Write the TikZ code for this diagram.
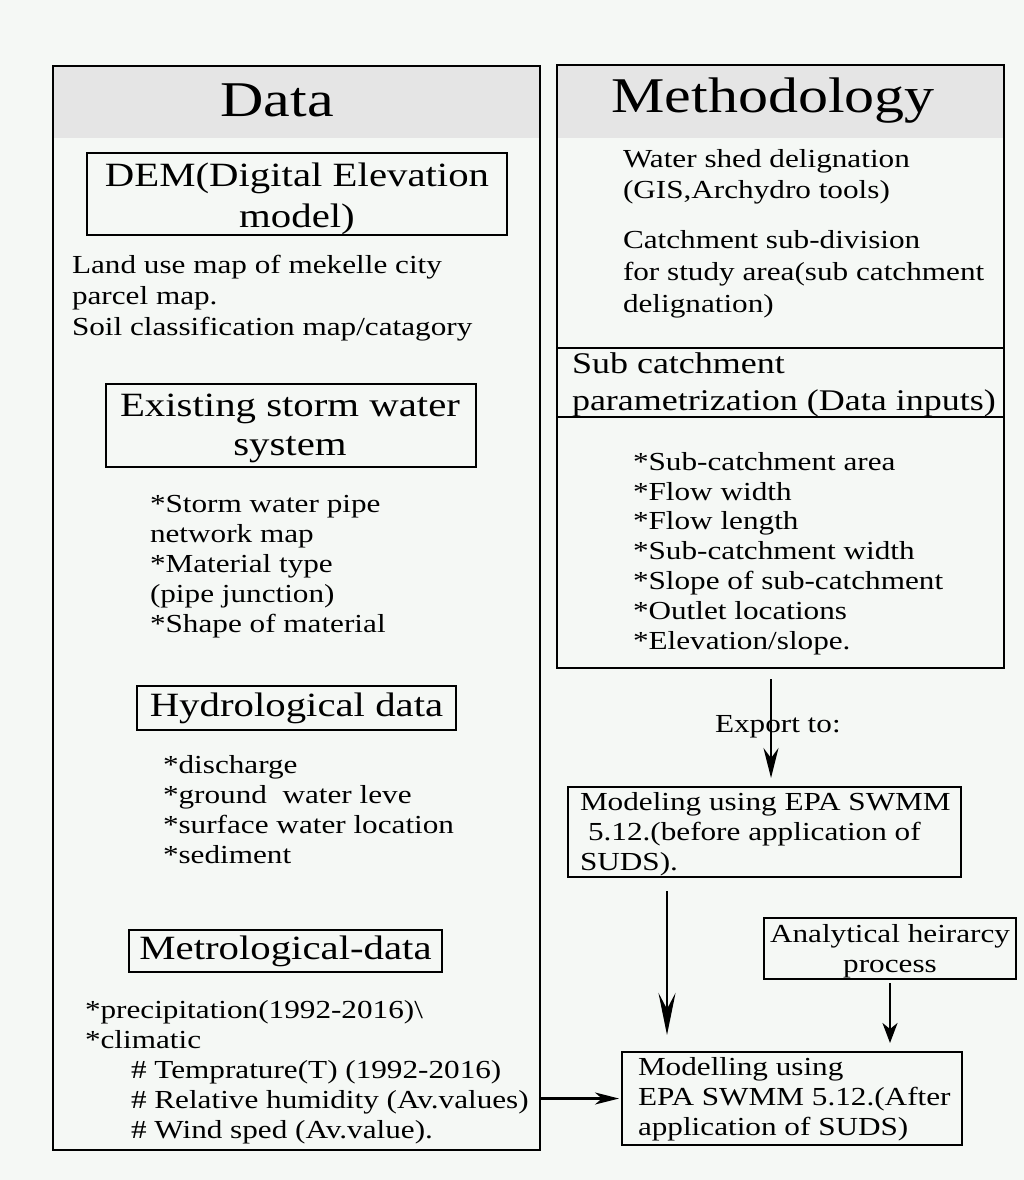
\documentclass[tikz,border=0pt]{standalone}
\usepackage{fontspec}
\setmainfont{Liberation Serif}[FakeStretch=1.2]
\usetikzlibrary{arrows.meta}
\definecolor{paper}{RGB}{245,248,245}
\definecolor{headgray}{RGB}{229,229,229}

\begin{document}
% Text nodes are placed by the baseline of their last line (anchor=base).
\begin{tikzpicture}[x=1pt,y=-1pt,
  every node/.style={inner sep=0pt, outer sep=0pt},
  frame/.style={draw, line width=1.6pt},
  titletext/.style={font=\fontsize{50}{60}\selectfont, anchor=base},
  itemtext/.style={font=\fontsize{34}{41}\selectfont, align=center, anchor=base},
  listtext/.style={font=\fontsize{26}{30}\selectfont, align=left, anchor=base west},
  exportlink/.style={line width=2.2pt, -{Stealth[length=30pt,width=15pt,inset=10pt]}},
  longlink/.style={line width=2.8pt, -{Stealth[length=42pt,width=17pt,inset=16pt]}},
  shortlink/.style={line width=2.4pt, -{Stealth[length=20pt,width=15pt,inset=6pt]}},
  sidelink/.style={line width=2.4pt, -{Stealth[length=24pt,width=12pt,inset=7pt]}},
]
% page
\fill[paper] (0,0) rectangle (1024,1180);
\useasboundingbox (0,0) rectangle (1024,1180);

% header bands
\fill[headgray] (53,66) rectangle (540,138);
\fill[headgray] (557,65) rectangle (1004,138);

% the two panels
\node[frame, minimum width=487pt, minimum height=1084pt] (data) at (296.5,608) {};
\node[frame, minimum width=447pt, minimum height=603pt] (meth) at (780.5,366.5) {};

\node[titletext] (datatitle) at (277,117) {Data};
\node[titletext] (methtitle) at (773,113) {Methodology};

% ---- Data panel ----
\node[frame, minimum width=420pt, minimum height=82pt] (dem) at (297,194) {};
\node[itemtext] (demtext) at (297,227) {DEM(Digital Elevation\\model)};
\node[listtext, font=\fontsize{26}{31}\selectfont] (landuse) at (72,335)
  {Land use map of mekelle city\\parcel map.\\Soil classification map/catagory};

\node[frame, minimum width=370pt, minimum height=83pt] (storm) at (291,425.5) {};
\node[itemtext, font=\fontsize{34}{39}\selectfont] (stormtext) at (290,455) {Existing storm water\\system};
\node[listtext] (stormlist) at (150,632)
  {*Storm water pipe\\network map\\*Material type\\(pipe junction)\\*Shape of material};

\node[frame, minimum width=319pt, minimum height=44pt] (hydro) at (296.5,708) {};
\node[itemtext] (hydrotext) at (296.5,716) {Hydrological data};
\node[listtext] (hydrolist) at (163,863)
  {*discharge\\*ground\ \ water leve\\*surface water location\\*sediment};

\node[frame, minimum width=313pt, minimum height=42pt] (metro) at (285.5,951) {};
\node[itemtext] (metrotext) at (285.5,959) {Metrological-data};
\node[listtext] (metrolist) at (85,1138)
  {*precipitation(1992-2016)\textbackslash\\*climatic\\
   \hspace{46pt}\# Temprature(T) (1992-2016)\\
   \hspace{46pt}\# Relative humidity (Av.values)\\
   \hspace{46pt}\# Wind sped (Av.value).};

% ---- Methodology panel ----
\node[listtext, font=\fontsize{26}{31}\selectfont] (watershed) at (623,198)
  {Water shed delignation\\(GIS,Archydro tools)};
\node[listtext, font=\fontsize{26}{32}\selectfont] (subdiv) at (623,312)
  {Catchment sub-division\\for study area(sub catchment\\delignation)};

\node[frame, minimum width=447pt, minimum height=69pt] (subc) at (780.5,382.5) {};
\node[listtext, font=\fontsize{30}{37}\selectfont] (subctext) at (572,410)
  {Sub catchment\\parametrization (Data inputs)};

\node[listtext, font=\fontsize{26}{29.8}\selectfont] (params) at (633,649)
  {*Sub-catchment area\\*Flow width\\*Flow length\\*Sub-catchment width\\*Slope of sub-catchment\\*Outlet locations\\*Elevation/slope.};

% ---- modelling chain ----
\node[listtext] (exportlbl) at (715,732) {Export to:};

\node[frame, minimum width=393pt, minimum height=90pt] (before) at (764.5,832) {};
\node[listtext] (beforetext) at (580,870)
  {Modeling using EPA SWMM\\\hspace{8pt}5.12.(before application of\\SUDS).};

\node[frame, minimum width=252pt, minimum height=61pt] (ahp) at (890,948.5) {};
\node[listtext, align=center, anchor=base] (ahptext) at (890,972)
  {Analytical heirarcy\\process};

\node[frame, minimum width=340pt, minimum height=93pt] (after) at (792,1098.5) {};
\node[listtext] (aftertext) at (638,1135)
  {Modelling using\\EPA SWMM 5.12.(After\\application of SUDS)};

% connectors
\draw[exportlink] ([xshift=6.5pt,yshift=-11pt]before.north |- meth.south)
  -- ([xshift=6.5pt,yshift=9pt]before.north);
\draw[longlink] ([xshift=45pt,yshift=-14pt]after.north west |- before.south)
  -- ([xshift=45pt,yshift=17pt]after.north west);
\draw[shortlink] ([yshift=-4pt]ahp.south) -- ([yshift=9pt]ahp.south |- after.north);
\draw[sidelink] (data.east |- after.west) -- ([xshift=-3pt]after.west);
\end{tikzpicture}
\end{document}
